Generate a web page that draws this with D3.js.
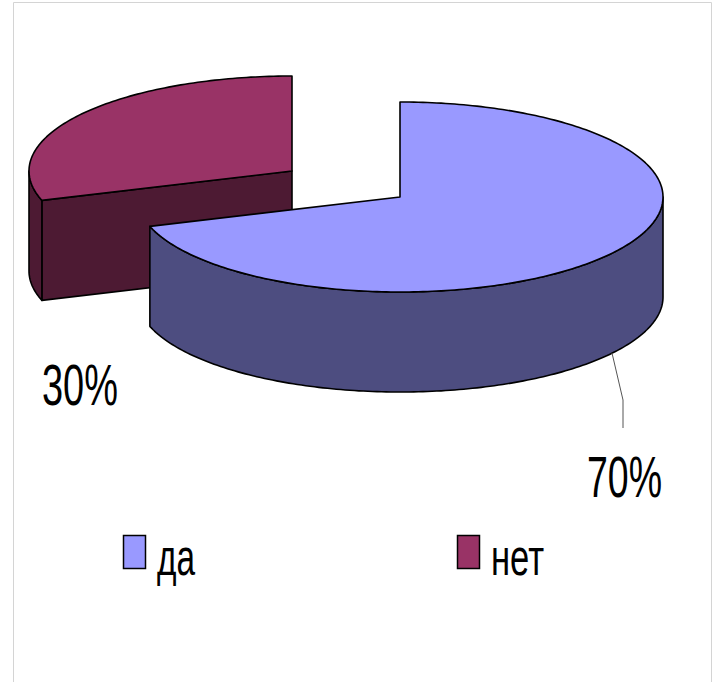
<!DOCTYPE html>
<html>
<head>
<meta charset="utf-8">
<script src="https://cdn.jsdelivr.net/npm/d3@7"></script>
<style>
  html, body { margin: 0; padding: 0; background: #fff; }
  svg { display: block; }
</style>
</head>
<body>
<svg id="chart" width="715" height="682"></svg>
<script>
// ---- data ----
const categories = ["да", "нет"];
const values = [70, 30];
const valueLabels = ["70%", "30%"];
const topColors = ["#9999ff", "#993366"];
const sideColors = ["#4d4d80", "#4d1a33"];

// ---- layout ----
const svg = d3.select("#chart");
const rx = 263, ry = 95, depth = 100;
const baseCx = 346, baseCy = 184;
const explode = [[54, 13], [-54, -13]];

// frame
svg.append("path")
  .attr("d", "M13.5,690 L13.5,2.5 L711.5,2.5 L711.5,690")
  .attr("fill", "none").attr("stroke", "#d4d4d4").attr("stroke-width", 1);

const pie = d3.pie().sort(null).value(d => d)(values);

function pt(cx, cy, a, dy) {
  return [cx + rx * Math.sin(a), cy - ry * Math.cos(a) + (dy || 0)];
}
const line = d3.line();
function arcPts(cx, cy, a0, a1, dy) {
  const n = Math.max(2, Math.ceil(Math.abs(a1 - a0) / (Math.PI / 180)));
  return d3.range(n + 1).map(i => pt(cx, cy, a0 + (a1 - a0) * i / n, dy));
}

const slices = pie.map((p, i) => ({
  ...p, i,
  cx: baseCx + explode[i][0],
  cy: baseCy + explode[i][1]
}));

const strokeCol = "#000";
const sw = 1.6;

// draw order: red (back) first, then blue
[1, 0].forEach(i => {
  const s = slices[i];
  const g = svg.append("g");
  const a0 = s.startAngle, a1 = s.endAngle;
  const faces = [];
  if (Math.sin(a0) < -1e-6) faces.push(a0);
  if (Math.sin(a1) > 1e-6) faces.push(a1);
  faces.forEach(a => {
    const c = [s.cx, s.cy], e = pt(s.cx, s.cy, a, 0);
    const poly = [c, e, [e[0], e[1] + depth], [c[0], c[1] + depth]];
    g.append("path").attr("d", line(poly) + "Z")
      .attr("fill", sideColors[i]).attr("stroke", strokeCol)
      .attr("stroke-width", sw).attr("stroke-linejoin", "round");
  });
  const r0 = Math.max(a0, Math.PI / 2), r1 = Math.min(a1, 3 * Math.PI / 2);
  if (r1 > r0) {
    const top = arcPts(s.cx, s.cy, r0, r1, 0);
    const bot = arcPts(s.cx, s.cy, r1, r0, depth);
    g.append("path").attr("d", line(top.concat(bot)) + "Z")
      .attr("fill", sideColors[i]).attr("stroke", strokeCol)
      .attr("stroke-width", sw).attr("stroke-linejoin", "round");
  }
  const topPts = [[s.cx, s.cy]].concat(arcPts(s.cx, s.cy, a0, a1, 0));
  g.append("path").attr("d", line(topPts) + "Z")
    .attr("fill", topColors[i]).attr("stroke", strokeCol)
    .attr("stroke-width", sw).attr("stroke-linejoin", "round");
});

// leader line for 70%
svg.append("path")
  .attr("d", line([[612, 353], [623, 400], [623, 428]]))
  .attr("fill", "none").attr("stroke", "#555").attr("stroke-width", 1);

const fontFam = "'Liberation Sans Narrow', 'Liberation Sans', Arial, sans-serif";

// value labels
const labelPos = [[587, 497, 75], [42, 405, 76]];
valueLabels.forEach((t, i) => {
  svg.append("text")
    .attr("x", labelPos[i][0]).attr("y", labelPos[i][1])
    .attr("textLength", labelPos[i][2]).attr("lengthAdjust", "spacingAndGlyphs")
    .attr("font-family", fontFam).attr("font-size", 58)
    .attr("fill", "#000").text(t);
});

// legend
const legX = [123, 457], legTextW = [38, 53];
categories.forEach((c, i) => {
  svg.append("rect")
    .attr("x", legX[i] + 0.5).attr("y", 535.5).attr("width", 22).attr("height", 33)
    .attr("fill", topColors[i]).attr("stroke", "#000").attr("stroke-width", 1.5);
  svg.append("text")
    .attr("x", legX[i] + 34).attr("y", 575)
    .attr("textLength", legTextW[i]).attr("lengthAdjust", "spacingAndGlyphs")
    .attr("font-family", fontFam).attr("font-size", 52)
    .attr("fill", "#000").text(c);
});
</script>
</body>
</html>
